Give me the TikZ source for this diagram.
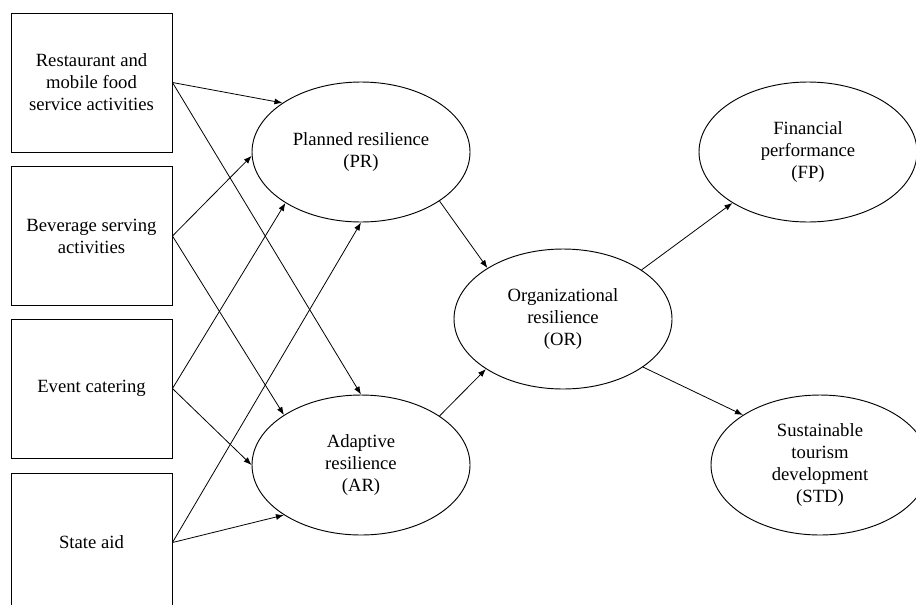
\documentclass[tikz,border=0pt]{standalone}
\usepackage{fontspec}
\setmainfont{Liberation Serif}
\usetikzlibrary{arrows.meta,shapes.geometric}

\begin{document}
\begin{tikzpicture}[x=0.75pt, y=-0.75pt, >=Latex, font=\fontsize{14pt}{16.5pt}\selectfont]

\tikzset{
  box/.style={draw, line width=0.7pt, align=center, inner sep=0pt,
    minimum width=120.75pt, minimum height=104.25pt},
  latent/.style={draw, ellipse, line width=0.7pt, align=center, inner sep=0pt,
    minimum width=163.5pt, minimum height=105pt},
  arr/.style={->, line width=0.6pt, >={Latex[length=6pt, width=4.5pt]}}
}

\useasboundingbox (0,0) rectangle (916,604);

% --- Nodes (fixed coordinates, image pixels) ---
% Exogenous constructs (left column)
\node[box] (rest) at (91.5,82.5) {Restaurant and\\mobile food\\service activities};
\node[box] (bev)  at (91.5,236)  {Beverage serving\\activities};
\node[box] (event) at (91.5,388.5) {Event catering};
\node[box] (aid)  at (91.5,542.5) {State aid};

% Mediators
\node[latent] (PR) at (361,152) {Planned resilience\\(PR)};
\node[latent] (AR) at (361,465) {Adaptive\\resilience\\(AR)};
\node[latent] (OR) at (563,319) {Organizational\\resilience\\(OR)};

% Outcomes
\node[latent] (FP)  at (808,152) {Financial\\performance\\(FP)};
\node[latent] (STD) at (820,465) {Sustainable\\tourism\\development\\(STD)};

% --- Arrows ---
\draw[arr] (rest.east) -- (PR.148);
\draw[arr] (rest.east) -- (AR.90);

\draw[arr] (bev.east) -- (PR.182);
\draw[arr] (bev.east) -- (AR.147);

\draw[arr] (event.east) -- (PR.214);
\draw[arr] (event.east) -- (AR.180);

\draw[arr] (aid.east) -- (PR.270);
\draw[arr] (aid.east) -- (AR.213);

\draw[arr] (PR.328) -- (OR.146);
\draw[arr] (AR.32) -- (OR.213);

\draw[arr] (OR.32) -- (FP.214);
\draw[arr] (OR.329) -- (STD.147);

\end{tikzpicture}
\end{document}
